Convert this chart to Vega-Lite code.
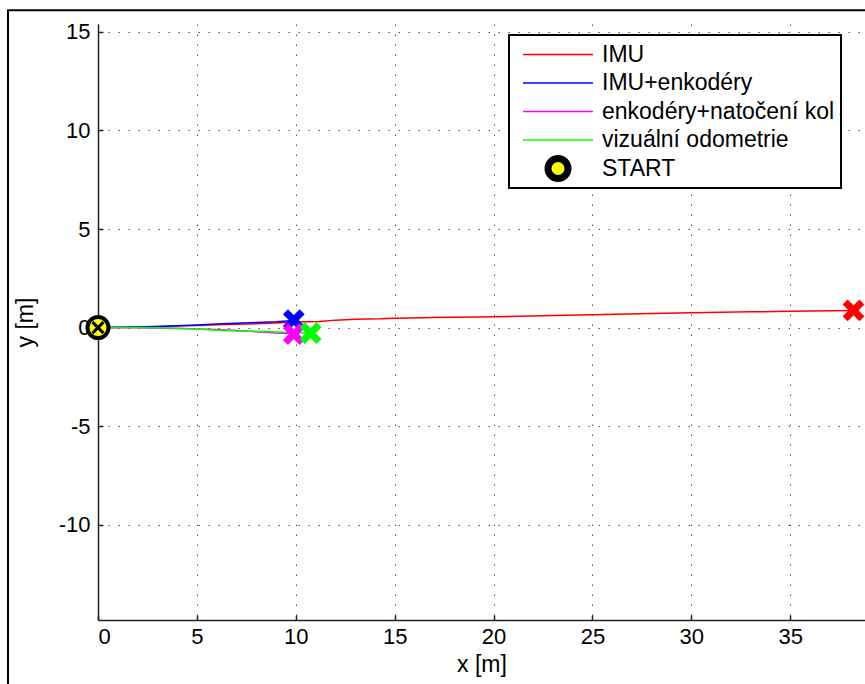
{
  "$schema": "https://vega.github.io/schema/vega-lite/v6.json",
  "width": 767,
  "height": 596,
  "autosize": {"type": "none"},
  "padding": {"left": 98, "top": 24, "right": 0, "bottom": 64},
  "background": "white",
  "config": {
    "view": {"stroke": null},
    "font": "Liberation Sans",
    "axis": {
      "domainColor": "#222222",
      "domainWidth": 1.5,
      "tickColor": "#222222",
      "tickWidth": 1.5,
      "tickSize": -5,
      "labelFont": "Liberation Sans",
      "labelFontSize": 22,
      "labelColor": "black",
      "titleFont": "Liberation Sans",
      "titleFontSize": 23,
      "titleFontWeight": "normal",
      "titleColor": "black",
      "grid": true,
      "gridColor": "#555555",
      "gridDash": [1.5, 8.5],
      "gridWidth": 1,
      "gridOpacity": 1
    }
  },
  "datasets": {
    "frame": [{"x1": -4.55, "x2": 45, "y1": 16.1, "y2": -25}],
    "traj": [
      {"s": "IMU", "o": 0, "x": 0, "y": 0},
      {"s": "IMU", "o": 1, "x": 1, "y": 0.01},
      {"s": "IMU", "o": 2, "x": 2, "y": 0.03},
      {"s": "IMU", "o": 3, "x": 3, "y": 0.05},
      {"s": "IMU", "o": 4, "x": 4, "y": 0.08},
      {"s": "IMU", "o": 5, "x": 5, "y": 0.11},
      {"s": "IMU", "o": 6, "x": 6, "y": 0.14},
      {"s": "IMU", "o": 7, "x": 7, "y": 0.17},
      {"s": "IMU", "o": 8, "x": 8, "y": 0.2},
      {"s": "IMU", "o": 9, "x": 9, "y": 0.24},
      {"s": "IMU", "o": 10, "x": 10, "y": 0.28},
      {"s": "IMU", "o": 11, "x": 11.2, "y": 0.31},
      {"s": "IMU", "o": 12, "x": 12, "y": 0.38},
      {"s": "IMU", "o": 13, "x": 13, "y": 0.43},
      {"s": "IMU", "o": 14, "x": 14.3, "y": 0.45},
      {"s": "IMU", "o": 15, "x": 15, "y": 0.48},
      {"s": "IMU", "o": 16, "x": 17, "y": 0.51},
      {"s": "IMU", "o": 17, "x": 20, "y": 0.55},
      {"s": "IMU", "o": 18, "x": 23, "y": 0.61},
      {"s": "IMU", "o": 19, "x": 25, "y": 0.65},
      {"s": "IMU", "o": 20, "x": 28, "y": 0.71},
      {"s": "IMU", "o": 21, "x": 30, "y": 0.75},
      {"s": "IMU", "o": 22, "x": 33, "y": 0.8},
      {"s": "IMU", "o": 23, "x": 35, "y": 0.83},
      {"s": "IMU", "o": 24, "x": 38.2, "y": 0.87},
      {"s": "IMU+enkodéry", "o": 0, "x": 0, "y": 0},
      {"s": "IMU+enkodéry", "o": 1, "x": 2, "y": 0.03},
      {"s": "IMU+enkodéry", "o": 2, "x": 4, "y": 0.1},
      {"s": "IMU+enkodéry", "o": 3, "x": 5, "y": 0.13},
      {"s": "IMU+enkodéry", "o": 4, "x": 6, "y": 0.18},
      {"s": "IMU+enkodéry", "o": 5, "x": 7, "y": 0.22},
      {"s": "IMU+enkodéry", "o": 6, "x": 8, "y": 0.26},
      {"s": "IMU+enkodéry", "o": 7, "x": 9, "y": 0.3},
      {"s": "IMU+enkodéry", "o": 8, "x": 9.9, "y": 0.36},
      {"s": "enkodéry+natočení kol", "o": 0, "x": 0, "y": 0},
      {"s": "enkodéry+natočení kol", "o": 1, "x": 2, "y": -0.01},
      {"s": "enkodéry+natočení kol", "o": 2, "x": 4, "y": -0.04},
      {"s": "enkodéry+natočení kol", "o": 3, "x": 6, "y": -0.1},
      {"s": "enkodéry+natočení kol", "o": 4, "x": 7, "y": -0.15},
      {"s": "enkodéry+natočení kol", "o": 5, "x": 8, "y": -0.21},
      {"s": "enkodéry+natočení kol", "o": 6, "x": 9, "y": -0.27},
      {"s": "enkodéry+natočení kol", "o": 7, "x": 9.9, "y": -0.31},
      {"s": "vizuální odometrie", "o": 0, "x": 0, "y": 0},
      {"s": "vizuální odometrie", "o": 1, "x": 2, "y": 0},
      {"s": "vizuální odometrie", "o": 2, "x": 4, "y": -0.03},
      {"s": "vizuální odometrie", "o": 3, "x": 5, "y": -0.07},
      {"s": "vizuální odometrie", "o": 4, "x": 6, "y": -0.13},
      {"s": "vizuální odometrie", "o": 5, "x": 7, "y": -0.17},
      {"s": "vizuální odometrie", "o": 6, "x": 8, "y": -0.19},
      {"s": "vizuální odometrie", "o": 7, "x": 9, "y": -0.22},
      {"s": "vizuální odometrie", "o": 8, "x": 10, "y": -0.25},
      {"s": "vizuální odometrie", "o": 9, "x": 10.75, "y": -0.28}
    ],
    "ends": [
      {"s": "IMU", "o": 0, "x": 38.2, "y": 0.87},
      {"s": "IMU+enkodéry", "o": 1, "x": 9.9, "y": 0.38},
      {"s": "enkodéry+natočení kol", "o": 2, "x": 9.9, "y": -0.33},
      {"s": "vizuální odometrie", "o": 3, "x": 10.75, "y": -0.28}
    ],
    "start": [{"x": 0, "y": 0}]
  },
  "layer": [
    {
      "data": {"name": "frame"},
      "mark": {"type": "rect", "fill": null, "stroke": "black", "strokeWidth": 2, "clip": false},
      "encoding": {
        "x": {"field": "x1", "type": "quantitative"},
        "x2": {"field": "x2"},
        "y": {"field": "y1", "type": "quantitative"},
        "y2": {"field": "y2"}
      }
    },
    {
      "data": {"name": "traj"},
      "mark": {"type": "line", "strokeWidth": 1.5},
      "encoding": {
        "x": {
          "field": "x", "type": "quantitative",
          "scale": {"domain": [0, 38.78], "nice": false, "zero": false},
          "axis": {"title": "x [m]", "values": [0, 5, 10, 15, 20, 25, 30, 35], "labelFontSize": 22, "labelPadding": 11, "titlePadding": 6}
        },
        "y": {
          "field": "y", "type": "quantitative",
          "scale": {"domain": [-14.83, 15.4], "nice": false, "zero": false},
          "axis": {"title": "y [m]", "values": [-10, -5, 0, 5, 10, 15], "labelFontSize": 22, "labelPadding": 13, "titlePadding": 21, "labelExpr": "'' + datum.value"}
        },
        "color": {
          "field": "s", "type": "nominal",
          "scale": {
            "domain": ["IMU", "IMU+enkodéry", "enkodéry+natočení kol", "vizuální odometrie", "START"],
            "range": ["#ff0000", "#0000ff", "#ff00ff", "#00ff00", "#000000"]
          },
          "legend": {
            "title": null,
            "orient": "none",
            "legendX": 411,
            "legendY": 11,
            "padding": 6,
            "fillColor": "white",
            "strokeColor": "black",
            "symbolType": "stroke",
            "symbolSize": 4900,
            "symbolStrokeWidth": 1.5,
            "labelFont": "Liberation Sans",
            "labelFontSize": 23,
            "labelColor": "black",
            "labelLimit": 400,
            "labelOffset": 9,
            "clipHeight": 27,
            "rowPadding": 1.5,
            "encode": {
              "legend": {"update": {"strokeWidth": {"value": 2}}},
              "symbols": {
                "update": {
                  "x": {"value": 43},
                  "shape": {"signal": "datum.value === 'START' ? 'circle' : 'stroke'"},
                  "size": {"signal": "datum.value === 'START' ? 400 : 4900"},
                  "fill": {"signal": "datum.value === 'START' ? '#ffff00' : 'transparent'"},
                  "strokeWidth": {"signal": "datum.value === 'START' ? 7 : 1.5"},
                  "opacity": {"value": 1}
                }
              },
              "labels": {
                "update": {"x": {"value": 87}}
              }
            }
          }
        },
        "detail": {"field": "s"},
        "order": {"field": "o", "type": "quantitative"}
      }
    },
    {
      "data": {"name": "ends"},
      "mark": {"type": "point", "shape": "M-1,-1L1,1M-1,1L1,-1", "filled": false, "strokeWidth": 7, "size": 280, "opacity": 1},
      "encoding": {
        "x": {"field": "x", "type": "quantitative"},
        "y": {"field": "y", "type": "quantitative"},
        "color": {"field": "s", "type": "nominal"},
        "order": {"field": "o", "type": "quantitative"}
      }
    },
    {
      "data": {"name": "start"},
      "mark": {"type": "point", "shape": "circle", "filled": true, "fill": "#ffff00", "stroke": "black", "strokeWidth": 4, "size": 441, "opacity": 1, "fillOpacity": 1},
      "encoding": {
        "x": {"field": "x", "type": "quantitative"},
        "y": {"field": "y", "type": "quantitative"}
      }
    },
    {
      "data": {"name": "start"},
      "mark": {"type": "point", "shape": "M-1,-1L1,1M-1,1L1,-1", "filled": false, "stroke": "black", "strokeWidth": 3, "size": 120, "opacity": 1},
      "encoding": {
        "x": {"field": "x", "type": "quantitative"},
        "y": {"field": "y", "type": "quantitative"}
      }
    }
  ]
}
